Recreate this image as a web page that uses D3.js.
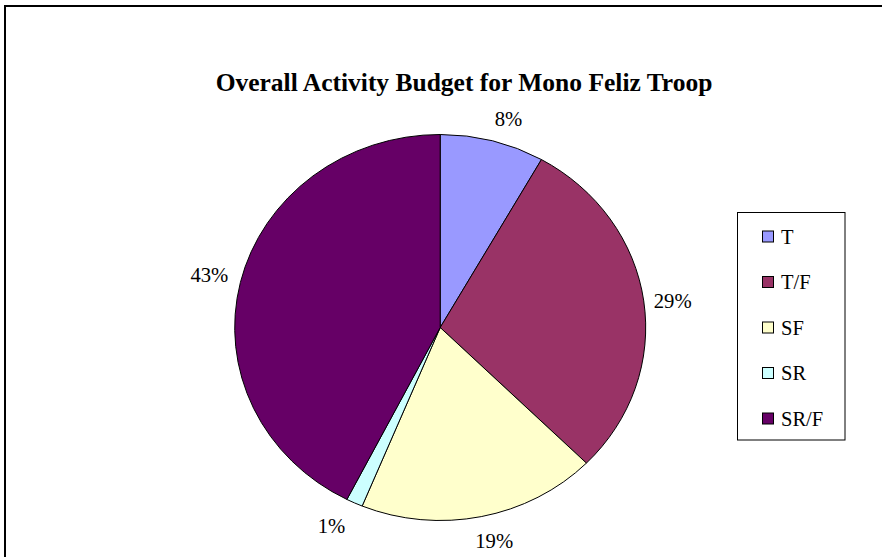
<!DOCTYPE html>
<html>
<head>
<meta charset="utf-8">
<script src="https://cdn.jsdelivr.net/npm/d3@7"></script>
<style>
  html, body { margin: 0; padding: 0; background: #fff; }
  svg { display: block; }
</style>
</head>
<body>
<svg id="chart" width="882" height="557"></svg>
<script>
const categories = ["T", "T/F", "SF", "SR", "SR/F"];
const values = [8.2, 29.2, 18.8, 1.3, 42.5];
const colors = ["#9999FF", "#993366", "#FFFFCC", "#CCFFFF", "#660066"];
const title = "Overall Activity Budget for Mono Feliz Troop";

const FONT = "'Liberation Serif', 'Times New Roman', Times, serif";
const svg = d3.select("#chart");

// outer frame
svg.append("rect")
  .attr("x", 5).attr("y", 6)
  .attr("width", 900).attr("height", 600)
  .attr("fill", "#fff").attr("stroke", "#000").attr("stroke-width", 2);

// title
svg.append("text")
  .attr("x", 464).attr("y", 91)
  .attr("text-anchor", "middle")
  .style("font-family", FONT)
  .attr("font-size", 25.5).attr("font-weight", "bold")
  .text(title);

const cx = 440.2, cy = 327.5, rx = 205.5, ry = 193;
const data = categories.map((c, i) => ({ cat: c, value: values[i], color: colors[i] }));
const total = d3.sum(values);

const pie = d3.pie().value(d => d.value).sort(null);
const arcs = pie(data);
const arc = d3.arc().innerRadius(0).outerRadius(rx);

const g = svg.append("g")
  .attr("transform", `translate(${cx},${cy}) scale(1,${ry / rx})`);

g.selectAll("path")
  .data(arcs)
  .join("path")
  .attr("d", arc)
  .attr("fill", d => d.data.color)
  .attr("stroke", "#000")
  .attr("stroke-width", 1)
  .attr("vector-effect", "non-scaling-stroke");

// labels outside: offset of the label's centre from the rim point at mid-angle
const labelOffset = { "T": [16, -22], "T/F": [29, 0], "SF": [13, 24], "SR": [-23, 23], "SR/F": [-31, -7.5] };
svg.selectAll("text.lbl")
  .data(arcs)
  .join("text")
  .attr("class", "lbl")
  .attr("text-anchor", "middle")
  .attr("dominant-baseline", "central")
  .style("font-family", FONT)
  .attr("font-size", 20.7)
  .attr("x", d => {
    const a = (d.startAngle + d.endAngle) / 2;
    return cx + Math.sin(a) * rx + labelOffset[d.data.cat][0];
  })
  .attr("y", d => {
    const a = (d.startAngle + d.endAngle) / 2;
    return cy - Math.cos(a) * ry + labelOffset[d.data.cat][1];
  })
  .text(d => Math.round(d.data.value / total * 100) + "%");

// legend
const lg = svg.append("g");
lg.append("rect")
  .attr("x", 737.5).attr("y", 212.5)
  .attr("width", 107.5).attr("height", 227.5)
  .attr("fill", "#fff").attr("stroke", "#000").attr("stroke-width", 1);

const ly = d3.scalePoint().domain(categories).range([236.5, 418.5]);
const items = lg.selectAll("g.item").data(data).join("g").attr("class", "item");
items.append("rect")
  .attr("x", 762.5).attr("y", d => ly(d.cat) - 5.5)
  .attr("width", 11).attr("height", 11)
  .attr("fill", d => d.color).attr("stroke", "#000").attr("stroke-width", 1);
items.append("text")
  .attr("x", 781).attr("y", d => ly(d.cat) + 7)
  .style("font-family", FONT)
  .attr("font-size", 20.5)
  .text(d => d.cat);
</script>
</body>
</html>
